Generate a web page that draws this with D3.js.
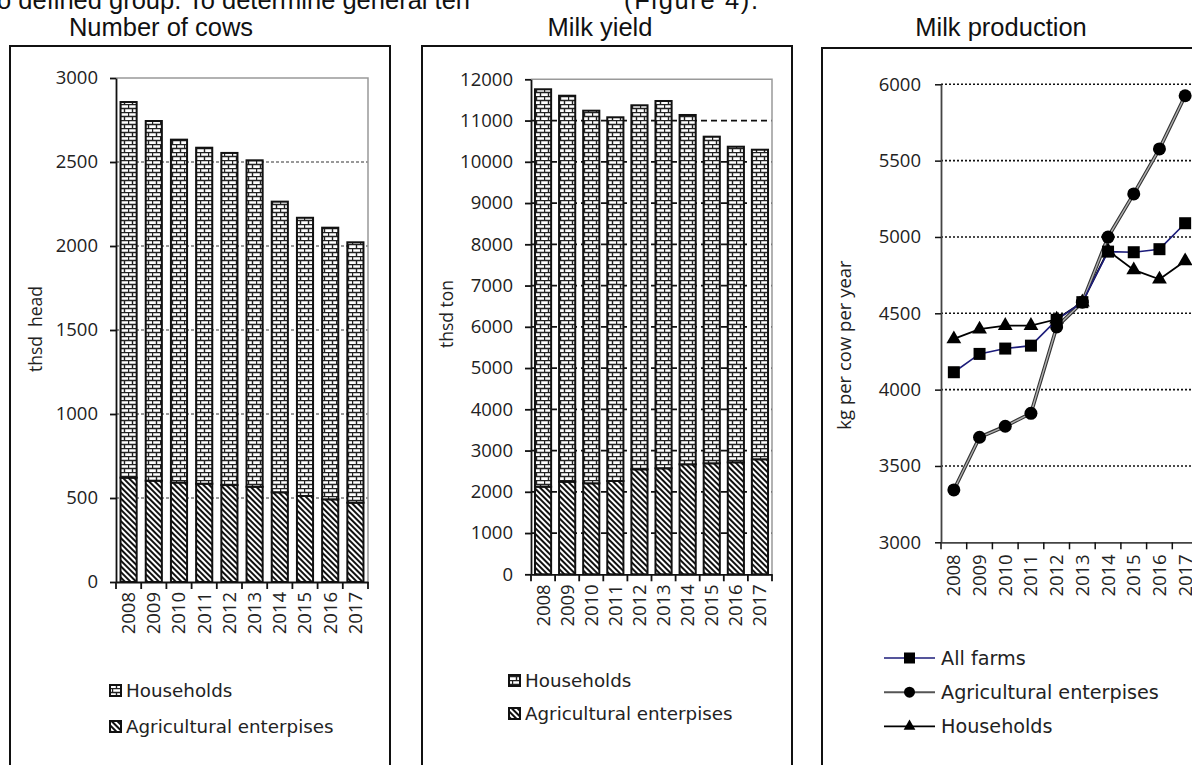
<!DOCTYPE html>
<html><head><meta charset="utf-8">
<script src="https://cdn.jsdelivr.net/npm/d3@7"></script>
<style>body{margin:0;background:#fff}svg{display:block}</style>
</head><body><svg id="c" width="1192" height="765"></svg>
<script>
// Cattle and milk statistics, 2008-2017
const years = ["2008","2009","2010","2011","2012","2013","2014","2015","2016","2017"];

// Number of cows, thsd head
const cowsAgri  = [621, 603, 592, 585, 577, 567, 534, 512, 492, 472];
const cowsHouse = [2236, 2141, 2041, 2000, 1977, 1943, 1730, 1656, 1617, 1550];
const cowsTicks = [0, 500, 1000, 1500, 2000, 2500, 3000];

// Milk yield, thsd ton
const milkAgri  = [2124, 2245, 2206, 2262, 2545, 2570, 2667, 2691, 2715, 2788];
const milkHouse = [9634, 9357, 9033, 8817, 8825, 8904, 8468, 7918, 7651, 7505];
const milkTicks = [0,1000,2000,3000,4000,5000,6000,7000,8000,9000,10000,11000,12000];

// Milk production, kg per cow per year
const yieldAll   = [4114, 4234, 4269, 4288, 4457, 4573, 4904, 4900, 4920, 5090];
const yieldAgri  = [3343, 3688, 3760, 3845, 4411, 4573, 4999, 5282, 5577, 5925];
const yieldHouse = [4332, 4396, 4419, 4419, 4461, 4573, 4910, 4784, 4723, 4843];
const yieldTicks = [3000, 3500, 4000, 4500, 5000, 5500, 6000];

const barLegend = ["Households", "Agricultural enterpises"];
const lineLegend = ["All farms", "Agricultural enterpises", "Households"];

const svg = d3.select("#c");
const TICK_FONT = "'Open Sans', 'Noto Sans', sans-serif";
const LEG_FONT = "'DejaVu Sans', sans-serif";
const TITLE_FONT = "'Liberation Sans', Arial, sans-serif";
const fmt = d3.format("d");

// ---- fill patterns
const defs = svg.append("defs");
const brick = defs.append("pattern").attr("id", "brick")
  .attr("patternUnits", "userSpaceOnUse").attr("width", 8).attr("height", 8);
brick.append("rect").attr("width", 8).attr("height", 8).attr("fill", "#fff");
brick.append("path").attr("d", "M0,0.5H8M0,4.5H8M0.5,0V4.5M4.5,4.5V8")
  .attr("stroke", "#222").attr("stroke-width", 1.4).attr("fill", "none");

const hatch = defs.append("pattern").attr("id", "hatch")
  .attr("patternUnits", "userSpaceOnUse").attr("width", 4).attr("height", 4)
  .attr("patternTransform", "rotate(-45)");
hatch.append("rect").attr("width", 4).attr("height", 4).attr("fill", "#fff");
hatch.append("line").attr("x1", 1).attr("x2", 1).attr("y1", 0).attr("y2", 4)
  .attr("stroke", "#111").attr("stroke-width", 2);

// ---- running text above the figure
svg.append("text").attr("x", -3).attr("y", 9)
  .attr("font-family", TITLE_FONT).attr("font-size", 25.5).attr("fill", "#111")
  .text("o defined group. To determine general ten");
svg.append("text").attr("x", 624).attr("y", 9)
  .attr("font-family", TITLE_FONT).attr("font-size", 25.5).attr("fill", "#111")
  .attr("textLength", 134)
  .text("(Figure 4).");

// ---- panel frames and titles
const panels = [
  {x: 10, y: 46, w: 380, title: "Number of cows", tx: 161},
  {x: 422, y: 46, w: 370, title: "Milk yield", tx: 600},
  {x: 822, y: 48, w: 420, title: "Milk production", tx: 1001}
];
panels.forEach(p => {
  svg.append("rect").attr("x", p.x).attr("y", p.y).attr("width", p.w).attr("height", 760)
    .attr("fill", "#fff").attr("stroke", "#111").attr("stroke-width", 2);
  svg.append("text").attr("x", p.tx).attr("y", 36).attr("text-anchor", "middle")
    .attr("font-family", TITLE_FONT).attr("font-size", 25.5).attr("fill", "#111")
    .text(p.title);
});

// ---- stacked bar chart helper
function barChart(cfg) {
  const g = svg.append("g");
  const x = d3.scaleBand().domain(years).range([cfg.x0, cfg.x1])
    .paddingInner(cfg.pad).paddingOuter(cfg.pad / 2);
  const y = d3.scaleLinear().domain([0, cfg.max]).range([cfg.y0, cfg.y1]);

  // gridlines
  cfg.ticks.filter(t => t > 0 && t < cfg.max).forEach(t => {
    g.append("line").attr("x1", cfg.x0).attr("x2", cfg.x1)
      .attr("y1", y(t)).attr("y2", y(t))
      .attr("stroke", cfg.gridColor).attr("stroke-width", cfg.gridWidth)
      .attr("stroke-dasharray", cfg.gridDash);
  });
  // plot-area border (top and right)
  g.append("path")
    .attr("d", `M${cfg.x0},${y(cfg.max)}H${cfg.x1}V${y(0)}`)
    .attr("fill", "none").attr("stroke", "#999").attr("stroke-width", 1.5);

  const rows = years.map((yr, i) => ({year: yr, agri: cfg.agri[i], house: cfg.house[i]}));
  const stacked = d3.stack().keys(["agri", "house"])(rows);
  const fills = {agri: "url(#hatch)", house: "url(#brick)"};
  stacked.forEach(layer => {
    g.append("g").selectAll("rect").data(layer).join("rect")
      .attr("x", d => x(d.data.year))
      .attr("width", x.bandwidth())
      .attr("y", d => y(d[1]))
      .attr("height", d => y(d[0]) - y(d[1]))
      .attr("fill", fills[layer.key])
      .attr("stroke", "#111").attr("stroke-width", 2);
  });

  // axes
  const yAxis = g.append("g").attr("transform", `translate(${cfg.x0},0)`)
    .call(d3.axisLeft(y).tickValues(cfg.ticks).tickFormat(fmt)
      .tickSize(6).tickSizeOuter(0).tickPadding(12));
  const xAxis = g.append("g").attr("transform", `translate(0,${cfg.y0})`)
    .call(d3.axisBottom(x).tickSize(0).tickPadding(0));
  [yAxis, xAxis].forEach(a => {
    a.select(".domain").attr("stroke", "#111").attr("stroke-width", 1.8);
    a.selectAll(".tick line").attr("stroke", "#111").attr("stroke-width", 1.8);
    a.selectAll("text").attr("font-family", TICK_FONT).attr("font-size", 18.5).attr("fill", "#222");
  });
  // category boundary ticks
  d3.range(years.length + 1).forEach(i => {
    const px = cfg.x0 + i * (cfg.x1 - cfg.x0) / years.length;
    xAxis.append("line").attr("x1", px).attr("x2", px).attr("y1", 0).attr("y2", 7)
      .attr("stroke", "#111").attr("stroke-width", 1.8);
  });
  xAxis.selectAll(".tick text")
    .attr("transform", "rotate(-90)")
    .attr("text-anchor", "end").attr("dy", "0.35em")
    .attr("x", -cfg.labelGap).attr("y", 0);

  // axis title
  g.append("text")
    .attr("transform", `translate(${cfg.titleX},${cfg.titleY}) rotate(-90)`)
    .attr("text-anchor", "middle").attr("dy", "0.35em")
    .attr("font-family", TICK_FONT).attr("font-size", 17.5).attr("fill", "#222")
    .attr("xml:space", "preserve").style("white-space", "pre")
    .text(cfg.yTitle);

  // legend
  const lg = g.append("g");
  barLegend.forEach((name, i) => {
    const ly = cfg.legY + i * cfg.legStep;
    lg.append("rect").attr("x", cfg.legX).attr("y", ly - 6).attr("width", 11).attr("height", 11)
      .attr("fill", i === 0 ? "url(#brick)" : "url(#hatch)")
      .attr("stroke", "#111").attr("stroke-width", 2);
    lg.append("text").attr("x", cfg.legX + 16).attr("y", ly).attr("dy", "0.35em")
      .attr("font-family", LEG_FONT).attr("font-size", 18.3).attr("fill", "#222")
      .text(name);
  });
}

barChart({
  x0: 116, x1: 368, y0: 582, y1: 78, max: 3000, pad: 0.36,
  agri: cowsAgri, house: cowsHouse, ticks: cowsTicks,
  gridColor: "#333", gridWidth: 1, gridDash: "3,2",
  labelGap: 10, yTitle: "thsd  head", titleX: 36, titleY: 329,
  legX: 110, legY: 691, legStep: 36
});

barChart({
  x0: 531, x1: 772, y0: 574.3, y1: 79.3, max: 12000, pad: 0.33,
  agri: milkAgri, house: milkHouse, ticks: milkTicks,
  gridColor: "#111", gridWidth: 1.8, gridDash: "6,4",
  labelGap: 10, yTitle: "thsd ton", titleX: 447, titleY: 314,
  legX: 509, legY: 681, legStep: 33
});

// ---- line chart: milk production per cow
(function () {
  const g = svg.append("g");
  const x0 = 941, x1 = 1198, y0 = 542.3, y1 = 84.3;
  const x = d3.scaleBand().domain(years).range([x0, x1]).padding(0);
  const cx = d => x(d) + x.bandwidth() / 2;
  const y = d3.scaleLinear().domain([3000, 6000]).range([y0, y1]);

  yieldTicks.filter(t => t > 3000).forEach(t => {
    g.append("line").attr("x1", x0).attr("x2", 1192).attr("y1", y(t)).attr("y2", y(t))
      .attr("stroke", "#111").attr("stroke-width", 1.6).attr("stroke-dasharray", "2,2");
  });

  const yAxis = g.append("g").attr("transform", `translate(${x0},0)`)
    .call(d3.axisLeft(y).tickValues(yieldTicks).tickFormat(fmt)
      .tickSize(6).tickSizeOuter(0).tickPadding(14));
  const xAxis = g.append("g").attr("transform", `translate(0,${y0})`)
    .call(d3.axisBottom(x).tickSize(0).tickPadding(0));
  [yAxis, xAxis].forEach(a => {
    a.select(".domain").attr("stroke", "#444").attr("stroke-width", 1.8);
    a.selectAll(".tick line").attr("stroke", "#111").attr("stroke-width", 1.5);
    a.selectAll("text").attr("font-family", TICK_FONT).attr("font-size", 18.5).attr("fill", "#222");
  });
  d3.range(years.length + 1).forEach(i => {
    const px = x0 + i * x.step();
    xAxis.append("line").attr("x1", px).attr("x2", px).attr("y1", 0).attr("y2", 7)
      .attr("stroke", "#111").attr("stroke-width", 1.5);
  });
  xAxis.selectAll(".tick text")
    .attr("transform", "rotate(-90)")
    .attr("text-anchor", "end").attr("dy", "0.35em")
    .attr("x", -12).attr("y", 0);

  g.append("text")
    .attr("transform", `translate(845,345) rotate(-90)`)
    .attr("text-anchor", "middle").attr("dy", "0.35em")
    .attr("font-family", TICK_FONT).attr("font-size", 18.5).attr("fill", "#222")
    .text("kg per cow per year");

  const line = d3.line().x((d, i) => cx(years[i])).y(d => y(d));

  // series drawing helpers
  const sq = 12, tri = d3.symbol().type(d3.symbolTriangle).size(95);
  function marker(sel, kind, px, py) {
    if (kind === "square") {
      sel.append("rect").attr("x", px - sq / 2).attr("y", py - sq / 2)
        .attr("width", sq).attr("height", sq).attr("fill", "#000");
    } else if (kind === "circle") {
      sel.append("circle").attr("cx", px).attr("cy", py).attr("r", 6.5).attr("fill", "#000");
    } else {
      sel.append("path").attr("d", tri).attr("transform", `translate(${px},${py})`).attr("fill", "#000");
    }
  }
  function drawLine(sel, kind, path) {
    if (kind === "circle") {
      sel.append("path").attr("d", path).attr("fill", "none")
        .attr("stroke", "#333").attr("stroke-width", 3.6);
      sel.append("path").attr("d", path).attr("fill", "none")
        .attr("stroke", "#b0b0b0").attr("stroke-width", 1.4);
    } else if (kind === "square") {
      sel.append("path").attr("d", path).attr("fill", "none")
        .attr("stroke", "#1c1c7a").attr("stroke-width", 1.6);
    } else {
      sel.append("path").attr("d", path).attr("fill", "none")
        .attr("stroke", "#000").attr("stroke-width", 1.8);
    }
  }

  const series = [
    {vals: yieldHouse, kind: "triangle"},
    {vals: yieldAgri, kind: "circle"},
    {vals: yieldAll, kind: "square"}
  ];
  series.forEach(s => {
    const sg = g.append("g");
    drawLine(sg, s.kind, line(s.vals));
    s.vals.forEach((v, i) => marker(sg, s.kind, cx(years[i]), y(v)));
  });

  // legend
  const kinds = ["square", "circle", "triangle"];
  lineLegend.forEach((name, i) => {
    const ly = 658 + i * 34.2;
    const lgi = g.append("g");
    if (kinds[i] === "circle") {
      lgi.append("path").attr("d", `M884,${ly}H935`).attr("stroke", "#555").attr("stroke-width", 2);
    } else {
      drawLine(lgi, kinds[i], `M884,${ly}H935`);
    }
    if (kinds[i] === "square") {
      lgi.append("rect").attr("x", 904).attr("y", ly - 5.5).attr("width", 11).attr("height", 11).attr("fill", "#000");
    } else if (kinds[i] === "circle") {
      lgi.append("circle").attr("cx", 909.5).attr("cy", ly).attr("r", 5.5).attr("fill", "#000");
    } else {
      lgi.append("path").attr("d", d3.symbol().type(d3.symbolTriangle).size(60)())
        .attr("transform", `translate(909.5,${ly})`).attr("fill", "#000");
    }
    lgi.append("text").attr("x", 941).attr("y", ly).attr("dy", "0.35em")
      .attr("font-family", LEG_FONT).attr("font-size", 19.2).attr("fill", "#222")
      .text(name);
  });
})();
</script></body></html>
